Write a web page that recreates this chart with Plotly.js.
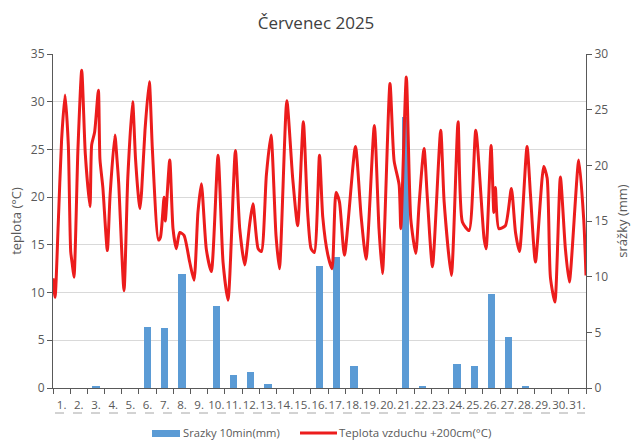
<!DOCTYPE html>
<html>
<head>
<meta charset="utf-8">
<script src="https://cdn.plot.ly/plotly-3.0.1.min.js"></script>
<style>html,body{margin:0;padding:0;background:#fff}#chart{width:632px;height:440px}</style>
</head>
<body>
<div id="chart"></div>
<script>
// Day labels
var dayLabels = ["1.","2.","3.","4.","5.","6.","7.","8.","9.","10.","11.","12.","13.","14.","15.","16.","17.","18.","19.","20.","21.","22.","23.","24.","25.","26.","27.","28.","29.","30.","31."];
// Precipitation per day (mm)
var rainMm = [0,0,0.2,0,0,5.5,5.4,10.2,0,7.4,1.2,1.4,0.4,0,0,11.0,11.8,2.0,0,0,24.3,0.2,0,2.2,2.0,8.4,4.6,0.15,0,0,0];
// Air temperature +200 cm: time in days since 1 July 00:00, temperature (°C)
var tempTime = [0.00,0.12,0.30,0.50,0.70,0.89,1.03,1.12,1.22,1.45,1.67,1.88,2.15,2.25,2.42,2.64,2.73,2.90,3.16,3.32,3.60,3.72,3.82,4.13,4.35,4.63,4.80,5.00,5.06,5.15,5.35,5.60,5.78,6.13,6.25,6.46,6.53,6.79,6.98,7.17,7.37,7.62,7.95,8.20,8.43,8.63,8.92,9.21,9.60,9.89,10.18,10.61,10.86,11.15,11.44,11.63,11.93,12.12,12.41,12.68,12.97,13.17,13.60,13.94,14.23,14.56,14.81,15.01,15.20,15.50,15.69,15.98,16.23,16.46,16.66,16.95,17.59,17.92,18.21,18.69,18.96,19.16,19.60,19.84,20.13,20.23,20.55,20.81,21.10,21.29,21.58,21.77,22.07,22.55,22.75,23.17,23.56,23.81,24.20,24.59,25.07,25.19,25.48,25.64,25.73,25.93,26.31,26.66,26.90,27.13,27.57,27.77,28.06,28.54,28.74,28.93,29.19,29.51,29.80,30.03,30.58,30.87,31.00];
var tempC = [11.5,9.5,17.0,26.0,30.7,25.5,14.3,13.0,11.6,25.0,33.3,24.5,19.0,25.5,26.8,31.2,24.0,21.0,14.4,20.2,26.5,24.0,21.5,10.2,22.0,30.0,24.0,19.5,18.8,20.5,27.0,32.1,25.0,15.5,15.8,20.0,17.5,23.9,16.7,14.6,16.3,16.0,13.2,11.3,18.4,21.4,14.5,12.2,24.4,13.2,9.2,24.9,16.7,12.9,17.2,19.3,14.6,14.3,22.3,26.5,16.0,12.5,30.1,22.0,17.0,27.9,18.4,14.6,14.2,24.4,17.9,14.0,12.5,20.5,19.5,13.9,25.3,18.0,13.5,27.5,16.7,12.0,31.9,23.8,21.3,16.7,32.6,17.7,14.1,19.2,25.1,20.0,12.7,27.0,19.5,11.8,27.9,17.4,16.5,27.0,15.7,14.6,25.4,18.4,21.0,16.7,17.0,20.9,16.3,14.3,25.3,20.3,13.2,23.2,22.0,11.6,9.0,22.1,14.6,11.1,23.9,17.6,11.8];

var dayCenters = dayLabels.map(function(_, i){ return i + 0.5; });
var dayEdges = []; for (var k = 0; k <= dayLabels.length; k++) dayEdges.push(k);

var axisCol = '#595959';
var txtCol = '#595959';
var FONT = 'Open Sans, Liberation Sans, sans-serif';
var px = function(X){ return (X-53)/533; };
var py = function(Y){ return (388-Y)/334; };

var traces = [
  {type:'bar', x: dayCenters, y: rainMm, width: 0.42, marker:{color:'#5b9bd5'}, xaxis:'x', yaxis:'y', name:'Srazky 10min(mm)', showlegend:false, hoverinfo:'skip'},
  {type:'scatter', mode:'lines', x: tempTime, y: tempC, xaxis:'x', yaxis:'y2', line:{color:'#ec1c1c', width:3, shape:'spline', smoothing:0.6}, name:'Teplota vzduchu +200cm(°C)', showlegend:false, hoverinfo:'skip'},
  {type:'scatter', mode:'markers', x:[0], y:[0], xaxis:'x2', yaxis:'y', marker:{opacity:0}, showlegend:false, hoverinfo:'skip'}
];

var layout = {
  width: 632, height: 440,
  margin: {l:53, r:46, t:54, b:52},
  paper_bgcolor:'#fff', plot_bgcolor:'rgba(0,0,0,0)',
  font: {family: FONT, size: 12, color: txtCol},
  title: {text:'Červenec 2025', x:0.5, xanchor:'center', y:1-23/440, yref:'container', yanchor:'middle', font:{family:FONT, size:17, color:'#404040'}},
  showlegend:false,
  bargap: 0,
  xaxis: {range:[0,31], tickmode:'array', tickvals: dayCenters, ticktext: dayLabels, tickangle:0, ticks:'', showline:true, linecolor:axisCol, linewidth:1, showgrid:false, zeroline:false, ticklabelstandoff:6, tickfont:{size:11.5, color:txtCol}, fixedrange:true},
  xaxis2: {range:[0,31], overlaying:'x', anchor:'y', side:'bottom', tickmode:'array', tickvals: dayEdges, ticks:'outside', ticklen:5, tickcolor:axisCol, showticklabels:false, showgrid:false, zeroline:false, showline:false},
  yaxis: {range:[0,30], side:'right', tickmode:'linear', tick0:0, dtick:5, ticks:'outside', ticklen:5, tickcolor:axisCol, showline:true, linecolor:axisCol, showgrid:false, zeroline:false, tickfont:{size:12, color:txtCol},
          title:{text:'srážky (mm)', font:{size:13, color:txtCol}, standoff:10}},
  yaxis2: {range:[0,35], overlaying:'y', side:'left', anchor:'x', tickmode:'linear', tick0:0, dtick:5, ticks:'outside', ticklen:5, tickcolor:axisCol, showline:true, linecolor:axisCol, showgrid:true, gridcolor:'#d9d9d9', gridwidth:1, zeroline:false, tickfont:{size:12, color:txtCol},
           title:{text:'teplota (°C)', font:{size:13, color:txtCol}, standoff:6}},
  shapes: [
    {type:'line', xref:'paper', yref:'paper', x0:px(55), x1:px(585), y0:py(413), y1:py(413), line:{color:'#a6a6a6', width:1, dash:'dash'}},
    {type:'rect', xref:'paper', yref:'paper', x0:px(152), x1:px(180), y0:py(430), y1:py(437), fillcolor:'#5b9bd5', line:{width:0}},
    {type:'line', xref:'paper', yref:'paper', x0:px(300), x1:px(337), y0:py(433), y1:py(433), line:{color:'#ec1c1c', width:3}}
  ],
  annotations: [
    {xref:'paper', yref:'paper', x:px(181), y:py(433), xanchor:'left', yanchor:'middle', text:'Srazky 10min(mm)', showarrow:false, font:{size:11.2, color:txtCol}},
    {xref:'paper', yref:'paper', x:px(337), y:py(433), xanchor:'left', yanchor:'middle', text:'Teplota vzduchu +200cm(°C)', showarrow:false, font:{size:11.5, color:txtCol}}
  ]
};

Plotly.newPlot('chart', traces, layout, {staticPlot:true, displayModeBar:false});
</script>
</body>
</html>
